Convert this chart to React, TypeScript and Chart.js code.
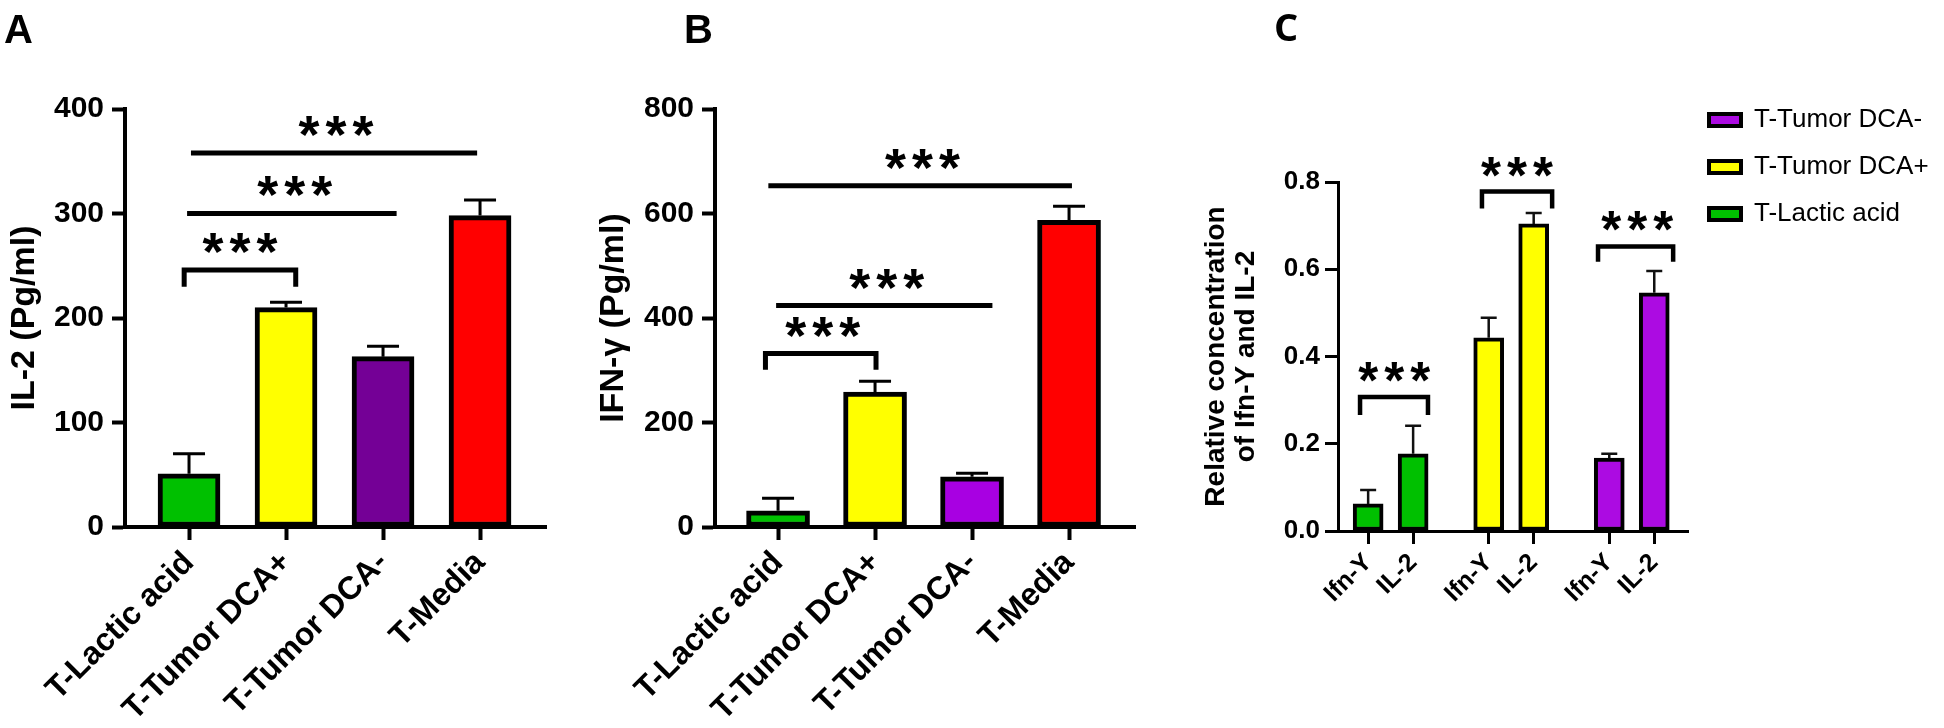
import React, { useEffect, useRef } from 'react';
import { Chart, registerables } from 'chart.js';
Chart.register(...registerables);

const FONT = "'Liberation Sans', Arial, sans-serif";

// ---------- Panel A : IL-2 ----------
const categoriesAB = ['T-Lactic acid', 'T-Tumor DCA+', 'T-Tumor DCA-', 'T-Media'];
const il2Mean = [51, 210, 163, 298];
const il2Sd = [19, 5, 10, 15];
const il2Ticks = [0, 100, 200, 300, 400];
const colorsA = ['#00C000', '#FFFF00', '#740096', '#FF0000'];
const sigA = [
  { from: -0.05, to: 1.1, level: 246, drop: 16, textX: 0.525, textLevel: 271 },
  { from: -0.02, to: 2.14, level: 300, drop: 0, textX: 1.09, textLevel: 326 },
  { from: 0.02, to: 2.97, level: 358, drop: 0, textX: 1.515, textLevel: 383 },
];

// ---------- Panel B : IFN-gamma ----------
const ifnMean = [31, 258, 96, 587];
const ifnSd = [24, 21, 7, 27];
const ifnTicks = [0, 200, 400, 600, 800];
const colorsB = ['#00C000', '#FFFF00', '#A800E2', '#FF0000'];
const sigB = [
  { from: -0.13, to: 1.01, level: 332, drop: 31, textX: 0.46, textLevel: 381 },
  { from: -0.02, to: 2.21, level: 424, drop: 0, textX: 1.12, textLevel: 474 },
  { from: -0.1, to: 3.03, level: 653, drop: 0, textX: 1.49, textLevel: 703 },
];

// ---------- Panel C : relative concentration ----------
const cytokines = ['Ifn-Y', 'IL-2'];
const groupsC = ['T-Lactic acid', 'T-Tumor DCA+', 'T-Tumor DCA-'];
const lacticRel = [0.062, 0.177];
const lacticSd = [0.032, 0.064];
const dcaPlusRel = [0.443, 0.704];
const dcaPlusSd = [0.046, 0.025];
const dcaMinusRel = [0.167, 0.546];
const dcaMinusSd = [0.01, 0.05];
const relTicks = [0, 0.2, 0.4, 0.6, 0.8];
const colorsC = ['#00C000', '#FFFF00', '#AC0BE2'];
const GROUP_GAP = 0.68;
const sigC = [
  { from: -0.18, to: 1.33, level: 0.307, drop: 0.041, textX: 0.58, textLevel: 0.365 },
  { from: 2.53, to: 4.09, level: 0.778, drop: 0.039, textX: 3.31, textLevel: 0.835 },
  { from: 5.11, to: 6.78, level: 0.652, drop: 0.035, textX: 5.98, textLevel: 0.711 },
];

const seriesC = [lacticRel, dcaPlusRel, dcaMinusRel];
const sdC = [lacticSd, dcaPlusSd, dcaMinusSd];
const posC = (g: number, i: number) => g * (cytokines.length + GROUP_GAP) + i;
const tickPosC: number[] = [];
const tickLabC: string[] = [];
groupsC.forEach((_, g) => cytokines.forEach((c, i) => { tickPosC.push(posC(g, i)); tickLabC.push(c); }));

function extrasPlugin(o: any) {
  return {
    id: 'extras',
    afterDatasetsDraw(chart: any) {
      const { ctx } = chart;
      const xs = chart.scales.x;
      const ys = chart.scales.y;
      ctx.save();
      // error bars (upper half)
      chart.data.datasets.forEach((ds: any, di: number) => {
        const meta = chart.getDatasetMeta(di);
        meta.data.forEach((bar: any, i: number) => {
          const v = ds.data[i].y;
          const yTop = ys.getPixelForValue(v + ds.errors[i]);
          const yBase = ys.getPixelForValue(v);
          ctx.strokeStyle = o.errColor;
          ctx.lineWidth = o.errWidth;
          ctx.lineCap = 'butt';
          ctx.beginPath();
          ctx.moveTo(bar.x, yBase);
          ctx.lineTo(bar.x, yTop);
          ctx.moveTo(bar.x - o.capHalf, yTop);
          ctx.lineTo(bar.x + o.capHalf, yTop);
          ctx.stroke();
        });
      });
      // significance brackets
      ctx.strokeStyle = '#000';
      ctx.lineWidth = o.sigWidth;
      ctx.lineJoin = 'miter';
      ctx.fillStyle = '#000';
      ctx.font = `bold 100px ${FONT}`;
      const m100 = ctx.measureText('*');
      const inkW = m100.actualBoundingBoxLeft + m100.actualBoundingBoxRight;
      const size = (100 * o.starInk) / inkW;
      ctx.font = `bold ${size}px ${FONT}`;
      const m = ctx.measureText('*');
      ctx.textAlign = 'left';
      ctx.textBaseline = 'alphabetic';
      o.sig.forEach((s: any) => {
        const x1 = xs.getPixelForValue(s.from);
        const x2 = xs.getPixelForValue(s.to);
        const y = ys.getPixelForValue(s.level);
        ctx.beginPath();
        if (s.drop) {
          const yb = ys.getPixelForValue(s.level - s.drop);
          ctx.moveTo(x1, yb);
          ctx.lineTo(x1, y);
          ctx.lineTo(x2, y);
          ctx.lineTo(x2, yb);
        } else {
          ctx.moveTo(x1, y);
          ctx.lineTo(x2, y);
        }
        ctx.stroke();
        const cx = xs.getPixelForValue(s.textX);
        const cy = ys.getPixelForValue(s.textLevel);
        const base = cy + (m.actualBoundingBoxAscent - m.actualBoundingBoxDescent) / 2;
        for (let k = -1; k <= 1; k++) {
          const c = cx + k * o.starGap;
          const left = c - (m.actualBoundingBoxRight - m.actualBoundingBoxLeft) / 2;
          ctx.fillText('*', left, base);
        }
      });
      ctx.restore();
    },
  };
}

function axisCommon(tickW: number, borderW: number) {
  return {
    grid: { display: true, drawOnChartArea: false, drawTicks: true, tickLength: 13, tickWidth: tickW, tickColor: '#000', offset: false },
    border: { display: true, color: '#000', width: borderW },
  };
}

function barPanel(p: any) {
  return {
    type: 'bar',
    data: {
      datasets: [{
        data: p.means.map((y: number, i: number) => ({ x: i, y })),
        errors: p.sds,
        backgroundColor: p.colors,
        borderColor: '#000',
        borderWidth: 5,
        borderSkipped: false,
        barThickness: p.barW,
        grouped: false,
      }],
    },
    options: {
      responsive: false,
      animation: false,
      devicePixelRatio: 1,
      layout: { padding: { top: 109, right: p.padRight, left: 0, bottom: 0 } },
      plugins: { legend: { display: false }, tooltip: { enabled: false } },
      scales: {
        x: {
          type: 'linear', min: p.xMin, max: p.xMax, offset: false,
          afterBuildTicks: (s: any) => { s.ticks = categoriesAB.map((_, i) => ({ value: i })); },
          afterFit: (s: any) => { s.height = 201; },
          ticks: {
            autoSkip: false, maxRotation: 45, minRotation: 45, padding: 4, color: '#000',
            font: { family: FONT, size: 32, weight: 'bold' },
            callback: (_v: any, i: number) => categoriesAB[i],
          },
          ...axisCommon(4, 4),
        },
        y: {
          min: 0, max: p.ticks[p.ticks.length - 1],
          afterBuildTicks: (s: any) => { s.ticks = p.ticks.map((v: number) => ({ value: v })); },
          afterFit: (s: any) => { s.width = p.yWidth; },
          ticks: { color: '#000', padding: 8, font: { family: FONT, size: 30, weight: 'bold' } },
          title: {
            display: true, text: p.yTitle, color: '#000',
            font: { family: FONT, size: 34, weight: 'bold' },
            padding: { top: p.titlePad, bottom: 0 },
          },
          ...axisCommon(4, 4),
        },
      },
    },
    plugins: [extrasPlugin({ errColor: '#000', errWidth: 3, capHalf: 16, sigWidth: 5, starGap: 27, starInk: 21, sig: p.sig })],
  };
}

function configA() {
  return barPanel({ means: il2Mean, sds: il2Sd, colors: colorsA, ticks: il2Ticks, yTitle: 'IL-2 (Pg/ml)', yWidth: 125, padRight: 34, xMin: -0.66, xMax: 3.68, barW: 62, titlePad: 4.6, sig: sigA });
}
function configB() {
  return barPanel({ means: ifnMean, sds: ifnSd, colors: colorsB, ticks: ifnTicks, yTitle: 'IFN-γ (Pg/ml)', yWidth: 135, padRight: 35, xMin: -0.65, xMax: 3.68, barW: 63, titlePad: 13.6, sig: sigB });
}
function configC() {
  return {
    type: 'bar',
    data: {
      datasets: groupsC.map((g, gi) => ({
        label: g,
        data: seriesC[gi].map((y, i) => ({ x: posC(gi, i), y })),
        errors: sdC[gi],
        backgroundColor: colorsC[gi],
        borderColor: '#000',
        borderWidth: 4,
        borderSkipped: false,
        barThickness: 30,
        grouped: false,
      })),
    },
    options: {
      responsive: false,
      animation: false,
      devicePixelRatio: 1,
      layout: { padding: { top: 86, right: 6, left: 0, bottom: 0 } },
      plugins: {
        tooltip: { enabled: false },
        title: { display: true, text: '', padding: { top: 0, bottom: 84 }, font: { size: 10, lineHeight: 1.2 } },
        legend: {
          display: true, position: 'right', align: 'start', reverse: true, maxWidth: 250,
          labels: { boxWidth: 32, boxHeight: 12, padding: 21, color: '#000', font: { family: FONT, size: 26 } },
        },
      },
      scales: {
        x: {
          type: 'linear', min: -0.67, max: 7.11, offset: false,
          afterBuildTicks: (s: any) => { s.ticks = tickPosC.map((v) => ({ value: v })); },
          afterFit: (s: any) => { s.height = 197; },
          ticks: {
            autoSkip: false, maxRotation: 45, minRotation: 45, padding: 4, color: '#000',
            font: { family: FONT, size: 25, weight: 'bold' },
            callback: (_v: any, i: number) => tickLabC[i],
          },
          ...axisCommon(3, 3),
        },
        y: {
          min: 0, max: 0.8,
          afterBuildTicks: (s: any) => { s.ticks = relTicks.map((v) => ({ value: v })); },
          afterFit: (s: any) => { s.width = 158; },
          ticks: { color: '#000', padding: 5, font: { family: FONT, size: 26, weight: 'bold' }, callback: (v: number) => v.toFixed(1) },
          title: {
            display: true, text: ['Relative concentration', 'of Ifn-Y and IL-2'], color: '#000',
            font: { family: FONT, size: 28, weight: 'bold', lineHeight: 1.07 },
            padding: { top: 21, bottom: 0 },
          },
          ...axisCommon(3, 3),
        },
      },
    },
    plugins: [extrasPlugin({ errColor: '#111', errWidth: 2.5, capHalf: 8, sigWidth: 4.5, starGap: 26, starInk: 20, sig: sigC })],
  };
}

function ChartCanvas({ make, left, width }: { make: () => any; left: number; width: number }) {
  const ref = useRef<HTMLCanvasElement | null>(null);
  useEffect(() => {
    const chart = new Chart(ref.current as HTMLCanvasElement, make());
    return () => chart.destroy();
  }, []);
  return (
    <canvas ref={ref} width={width} height={728}
      style={{ position: 'absolute', left, top: 0, width, height: 728 }} />
  );
}

const letterStyle = (left: number, top: number, family: string, size: number): React.CSSProperties => ({
  position: 'absolute', left, top, fontFamily: family, fontWeight: 'bold', fontSize: size, lineHeight: '40px', color: '#000',
});

export default function App() {
  return (
    <div style={{ position: 'fixed', left: 0, top: 0, width: 1944, height: 728, background: '#fff', overflow: 'hidden' }}>
      <ChartCanvas make={configA} left={0} width={580} />
      <ChartCanvas make={configB} left={580} width={590} />
      <ChartCanvas make={configC} left={1180} width={764} />
      <div style={letterStyle(4, 9, FONT, 40)}>A</div>
      <div style={letterStyle(684, 9, FONT, 40)}>B</div>
      <div style={letterStyle(1274, 6, "'Open Sans', sans-serif", 38)}>C</div>
    </div>
  );
}
